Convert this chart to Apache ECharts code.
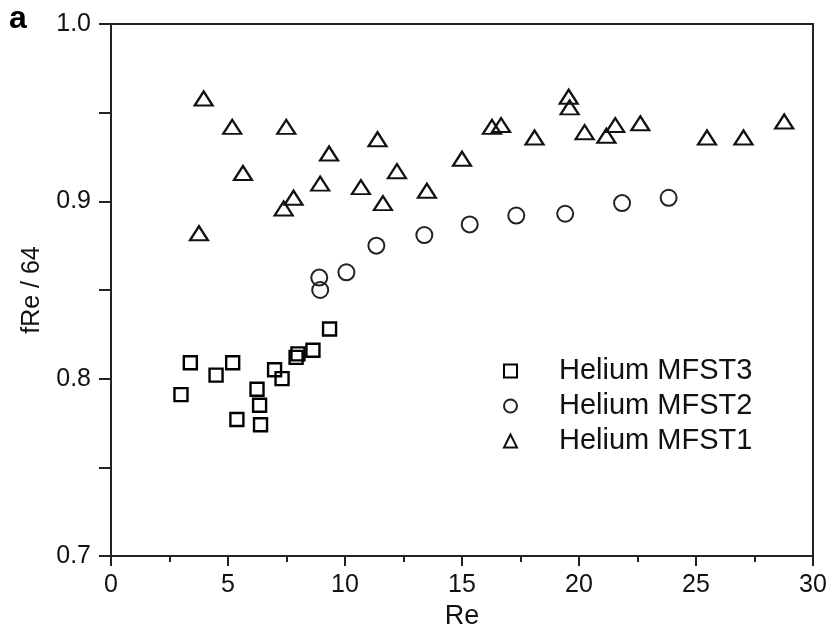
<!DOCTYPE html>
<html>
<head>
<meta charset="utf-8">
<script src="https://cdn.jsdelivr.net/npm/echarts@6/dist/echarts.min.js"></script>
<style>html,body{margin:0;padding:0;background:#fff;}#chart{width:832px;height:637px;}</style>
</head>
<body>
<div id="chart"></div>
<script>
var seriesNames = ['Helium MFST3', 'Helium MFST2', 'Helium MFST1'];
var mfst3X = [2.99, 3.39, 4.49, 5.20, 5.38, 6.24, 6.35, 6.39, 6.99, 7.31, 7.91, 7.99, 8.63, 9.34];
var mfst3Y = [0.791, 0.809, 0.802, 0.809, 0.777, 0.794, 0.785, 0.774, 0.805, 0.800, 0.812, 0.814, 0.816, 0.828];
var mfst2X = [8.90, 8.94, 10.06, 11.34, 13.39, 15.33, 17.32, 19.41, 21.84, 23.83];
var mfst2Y = [0.857, 0.850, 0.860, 0.875, 0.881, 0.887, 0.892, 0.893, 0.899, 0.902];
var mfst1X = [3.76, 3.96, 5.18, 5.64, 7.38, 7.49, 7.80, 8.94, 9.32, 10.68, 11.39, 11.62, 12.22, 13.50, 15.0, 16.28, 16.67, 18.10, 19.56, 19.60, 20.24, 21.17, 21.55, 22.62, 25.47, 27.03, 28.77];
var mfst1Y = [0.882, 0.958, 0.942, 0.916, 0.896, 0.942, 0.902, 0.910, 0.927, 0.908, 0.935, 0.899, 0.917, 0.906, 0.924, 0.942, 0.943, 0.936, 0.959, 0.953, 0.939, 0.937, 0.943, 0.944, 0.936, 0.936, 0.945];
var xTicks = [0, 5, 10, 15, 20, 25, 30];
var yTicks = [0.7, 0.8, 0.9, 1.0];

function pairs(xs, ys) { return xs.map(function (x, i) { return [x, ys[i]]; }); }

var FONT = 'Liberation Sans, Arial, Helvetica, sans-serif';
var chart = echarts.init(document.getElementById('chart'), null, {renderer: 'canvas'});
chart.setOption({
  animation: false,
  backgroundColor: '#ffffff',
  grid: {left: 111, right: 19, top: 24, bottom: 81, show: true, borderColor: '#222', borderWidth: 2, backgroundColor: 'transparent'},
  graphic: [{
    type: 'text', left: 9, top: 3,
    style: {text: 'a', font: 'bold 32px ' + FONT, fill: '#000'}
  }],
  legend: {
    orient: 'vertical', left: 498, top: 351,
    itemWidth: 13, itemHeight: 13, itemGap: 5,
    data: seriesNames,
    textStyle: {fontFamily: FONT, fontSize: 29, color: '#111', lineHeight: 30, padding: [0, 0, 0, 37]}
  },
  xAxis: {
    type: 'value', min: 0, max: 30, interval: 5,
    name: 'Re', nameLocation: 'middle', nameGap: 44,
    nameTextStyle: {fontFamily: FONT, fontSize: 27, color: '#111'},
    axisLine: {show: true, lineStyle: {color: '#222', width: 2}},
    axisTick: {show: true, inside: false, length: 10, lineStyle: {color: '#222', width: 2}},
    minorTick: {show: true, splitNumber: 2, length: 6, lineStyle: {color: '#222', width: 2}},
    splitLine: {show: false},
    axisLabel: {fontFamily: FONT, fontSize: 25, color: '#111', margin: 17,
      formatter: function (v) { return xTicks.indexOf(v) >= 0 ? String(v) : ''; }}
  },
  yAxis: {
    type: 'value', min: 0.7, max: 1.0, interval: 0.1,
    name: 'fRe / 64', nameLocation: 'middle', nameGap: 66, nameRotate: 90,
    nameTextStyle: {fontFamily: FONT, fontSize: 25, color: '#111'},
    axisLine: {show: true, lineStyle: {color: '#222', width: 2}},
    axisTick: {show: true, inside: false, length: 12, lineStyle: {color: '#222', width: 2}},
    minorTick: {show: true, splitNumber: 2, length: 12, lineStyle: {color: '#222', width: 2}},
    splitLine: {show: false},
    axisLabel: {fontFamily: FONT, fontSize: 25, color: '#111', margin: 20,
      formatter: function (v) { return v.toFixed(1); }}
  },
  series: [
    {name: seriesNames[0], type: 'scatter', symbol: 'rect', symbolSize: 13,
      itemStyle: {opacity: 1, color: 'rgba(255,255,255,0)', borderColor: '#000', borderWidth: 2.4},
      data: pairs(mfst3X, mfst3Y)},
    {name: seriesNames[1], type: 'scatter', symbol: 'circle', symbolSize: 16,
      itemStyle: {opacity: 1, color: 'rgba(255,255,255,0)', borderColor: '#222', borderWidth: 2},
      data: pairs(mfst2X, mfst2Y)},
    {name: seriesNames[2], type: 'scatter', symbol: 'triangle', symbolSize: [18, 14],
      itemStyle: {opacity: 1, color: 'rgba(255,255,255,0)', borderColor: '#111', borderWidth: 2.2},
      data: pairs(mfst1X, mfst1Y)}
  ]
});
</script>
</body>
</html>
